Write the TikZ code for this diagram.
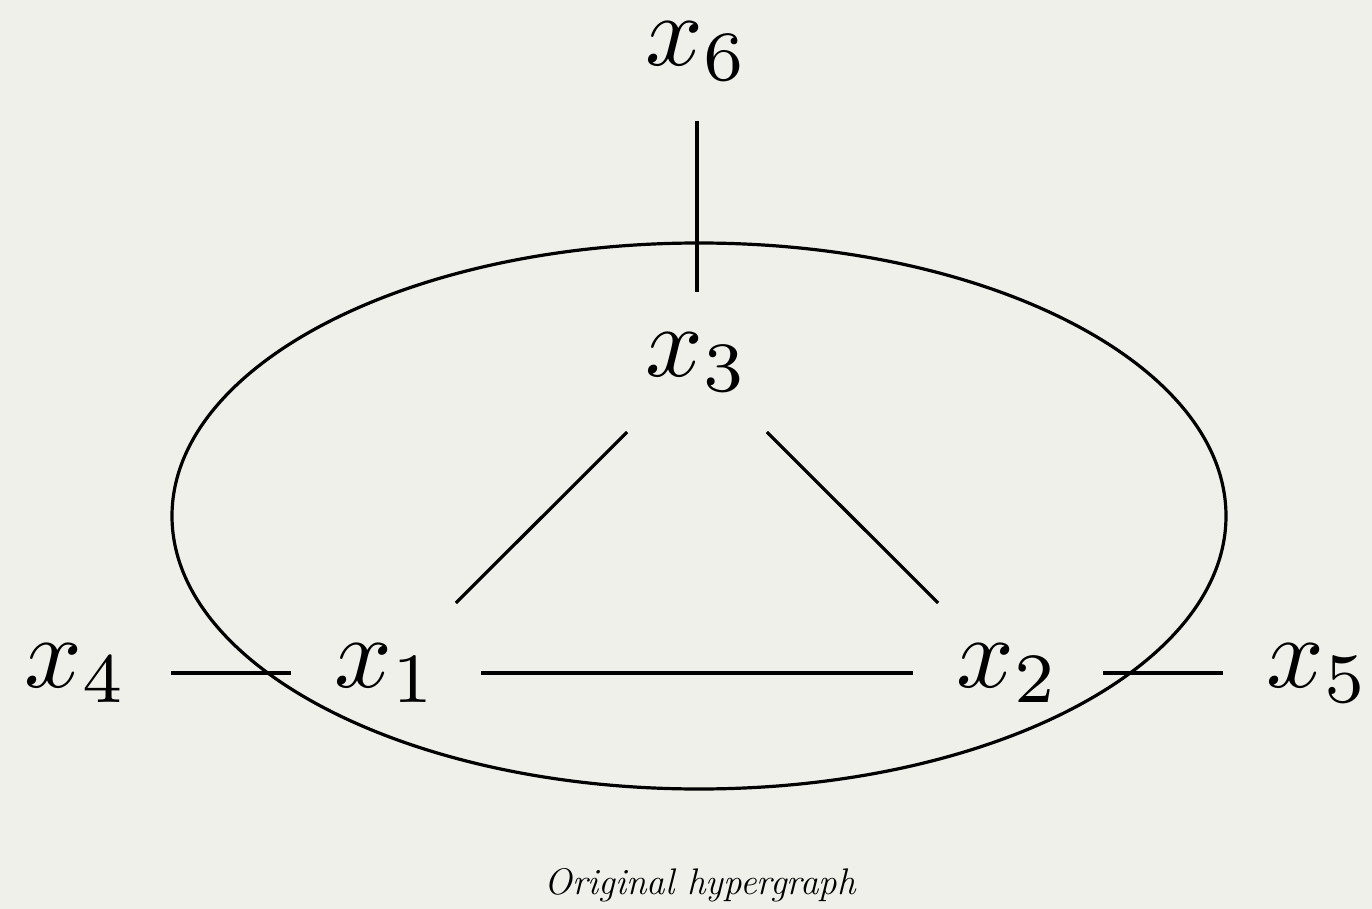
\RequirePackage{fix-cm}
\documentclass[tikz,border=0pt]{standalone}
\definecolor{bg}{RGB}{240,240,235}
\newcommand{\bigmath}[1]{\scalebox{5.05}{$#1$}}
\tikzset{
  vnode/.style={minimum width=95pt, minimum height=70pt, inner sep=0pt, outer sep=0pt},
  topnode/.style={vnode, minimum height=42pt},
  edge/.style={line width=1.6pt, black},
  caption/.style={font=\fontsize{18.5}{22}\selectfont\itshape, anchor=base, inner sep=0pt}
}
\begin{document}
\begin{tikzpicture}[x=0.5pt,y=-0.5pt]
  \fill[bg] (0,0) rectangle (1372,909);
  \useasboundingbox (0,0) rectangle (1372,909);
  \node[topnode] (x6) at (697,51) {\bigmath{x_6}};
  \node[vnode] (x3) at (697,362) {\bigmath{x_3}};
  \node[vnode] (x1) at (386,673) {\bigmath{x_1}};
  \node[vnode] (x2) at (1008,673) {\bigmath{x_2}};
  \node[vnode] (x4) at (76,673) {\bigmath{x_4}};
  \node[vnode] (x5) at (1318,673) {\bigmath{x_5}};
  \coordinate (ec) at (699,516);
  \draw[edge] (ec) ellipse [x radius=263.5pt, y radius=136.5pt];
  \draw[edge, shorten <=14pt] (x6) -- (x3);
  \draw[edge] (x3) -- (x1);
  \draw[edge] (x3) -- (x2);
  \draw[edge] (x1) -- (x2);
  \draw[edge] (x4) -- (x1);
  \draw[edge] (x2) -- (x5);
  \node[caption] (cap) at (700,894) {Original hypergraph};
\end{tikzpicture}
\end{document}
